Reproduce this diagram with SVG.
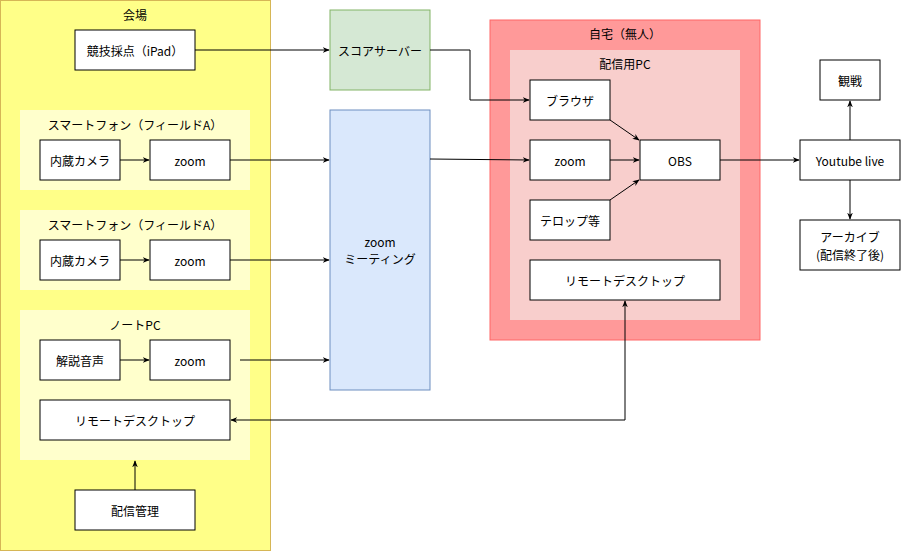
<svg xmlns="http://www.w3.org/2000/svg" width="901" height="551" viewBox="0 0 901 551">
<style>
text{font-family:"Noto Sans CJK JP","Noto Sans",sans-serif;font-size:12px;text-anchor:middle;dominant-baseline:central;fill:#000}
.b{fill:#fff;stroke:#000;stroke-width:1}
.c{fill:none;stroke:#000;stroke-width:1}
</style>
<defs>
<marker id="a" viewBox="0 0 10 10" refX="9" refY="5" markerWidth="7" markerHeight="7" orient="auto-start-reverse"><path d="M0,1 L10,5 L0,9 L3,5 Z" fill="#000"/></marker>
</defs>
<g id="venue"><rect x="0.5" y="0.5" width="270" height="550" fill="#ffff88" stroke="#d6b656"/><text x="135" y="14">会場</text></g>
<g id="ipad"><rect class="b" x="75" y="30" width="120" height="40"/><text x="135" y="50">競技採点（iPad）</text></g>
<g id="sp1"><rect x="20" y="110" width="230" height="80" fill="#ffffcc"/><text x="135" y="124">スマートフォン（フィールドA）</text></g>
<g id="cam1"><rect class="b" x="40" y="140" width="80" height="40"/><text x="80" y="160">内蔵カメラ</text></g>
<g id="zoom1"><rect class="b" x="150" y="140" width="80" height="40"/><text x="190" y="160">zoom</text></g>
<g id="sp2"><rect x="20" y="210" width="230" height="80" fill="#ffffcc"/><text x="135" y="224">スマートフォン（フィールドA）</text></g>
<g id="cam2"><rect class="b" x="40" y="240" width="80" height="40"/><text x="80" y="260">内蔵カメラ</text></g>
<g id="zoom2"><rect class="b" x="150" y="240" width="80" height="40"/><text x="190" y="260">zoom</text></g>
<g id="note"><rect x="20" y="310" width="230" height="150" fill="#ffffcc"/><text x="135" y="324">ノートPC</text></g>
<g id="voice"><rect class="b" x="40" y="340" width="80" height="40"/><text x="80" y="360">解説音声</text></g>
<g id="zoom3"><rect class="b" x="150" y="340" width="80" height="40"/><text x="190" y="360">zoom</text></g>
<g id="rd1"><rect class="b" x="40" y="400" width="190" height="40"/><text x="135" y="420">リモートデスクトップ</text></g>
<g id="mgmt"><rect class="b" x="75" y="490" width="120" height="40"/><text x="135" y="510">配信管理</text></g>
<g id="score"><rect x="330" y="10" width="100" height="80" fill="#d5e8d4" stroke="#82b366"/><text x="380" y="50">スコアサーバー</text></g>
<g id="meeting"><rect x="330" y="110" width="100" height="280" fill="#dae8fc" stroke="#6c8ebf"/><text x="380" y="241">zoom</text><text x="380" y="258">ミーティング</text></g>
<g id="home"><rect x="490" y="20" width="270" height="320" fill="#ff9999" stroke="#ff6666"/><text x="625" y="33">自宅（無人）</text></g>
<g id="pc"><rect x="510" y="50" width="230" height="270" fill="#f8cecc"/><text x="625" y="63">配信用PC</text></g>
<g id="browser"><rect class="b" x="530" y="80" width="80" height="40"/><text x="570" y="100">ブラウザ</text></g>
<g id="zoom4"><rect class="b" x="530" y="140" width="80" height="40"/><text x="570" y="160">zoom</text></g>
<g id="telop"><rect class="b" x="530" y="200" width="80" height="40"/><text x="570" y="220">テロップ等</text></g>
<g id="obs"><rect class="b" x="640" y="140" width="80" height="40"/><text x="680" y="160">OBS</text></g>
<g id="rd2"><rect class="b" x="530" y="260" width="190" height="40"/><text x="625" y="280">リモートデスクトップ</text></g>
<g id="watch"><rect class="b" x="820" y="60" width="60" height="40"/><text x="850" y="80">観戦</text></g>
<g id="yt"><rect class="b" x="800" y="140" width="100" height="40"/><text x="850" y="160">Youtube live</text></g>
<g id="archive"><rect class="b" x="800" y="220" width="100" height="50"/><text x="850" y="236">アーカイブ</text><text x="850" y="254">(配信終了後)</text></g>
<g id="connectors">
<path class="c" marker-end="url(#a)" d="M195,50 H329"/>
<path class="c" marker-end="url(#a)" d="M430,50 H470 V100 H529"/>
<path class="c" marker-end="url(#a)" d="M120,160 H149"/>
<path class="c" marker-end="url(#a)" d="M120,260 H149"/>
<path class="c" marker-end="url(#a)" d="M120,360 H149"/>
<path class="c" marker-end="url(#a)" d="M230,160 H329"/>
<path class="c" marker-end="url(#a)" d="M230,260 H329"/>
<path class="c" marker-end="url(#a)" d="M240,360 H329"/>
<path class="c" marker-end="url(#a)" d="M430,159 L529,160"/>
<path class="c" marker-end="url(#a)" d="M610,120 L639,140"/>
<path class="c" marker-end="url(#a)" d="M610,160 H639"/>
<path class="c" marker-end="url(#a)" d="M610,200 L639,180"/>
<path class="c" marker-end="url(#a)" d="M720,160 H799"/>
<path class="c" marker-end="url(#a)" d="M850,140 V101"/>
<path class="c" marker-end="url(#a)" d="M850,180 V219"/>
<path class="c" marker-start="url(#a)" marker-end="url(#a)" d="M625,301 V420 H231"/>
<path class="c" marker-end="url(#a)" d="M135,490 V461"/>
</g>
</svg>
